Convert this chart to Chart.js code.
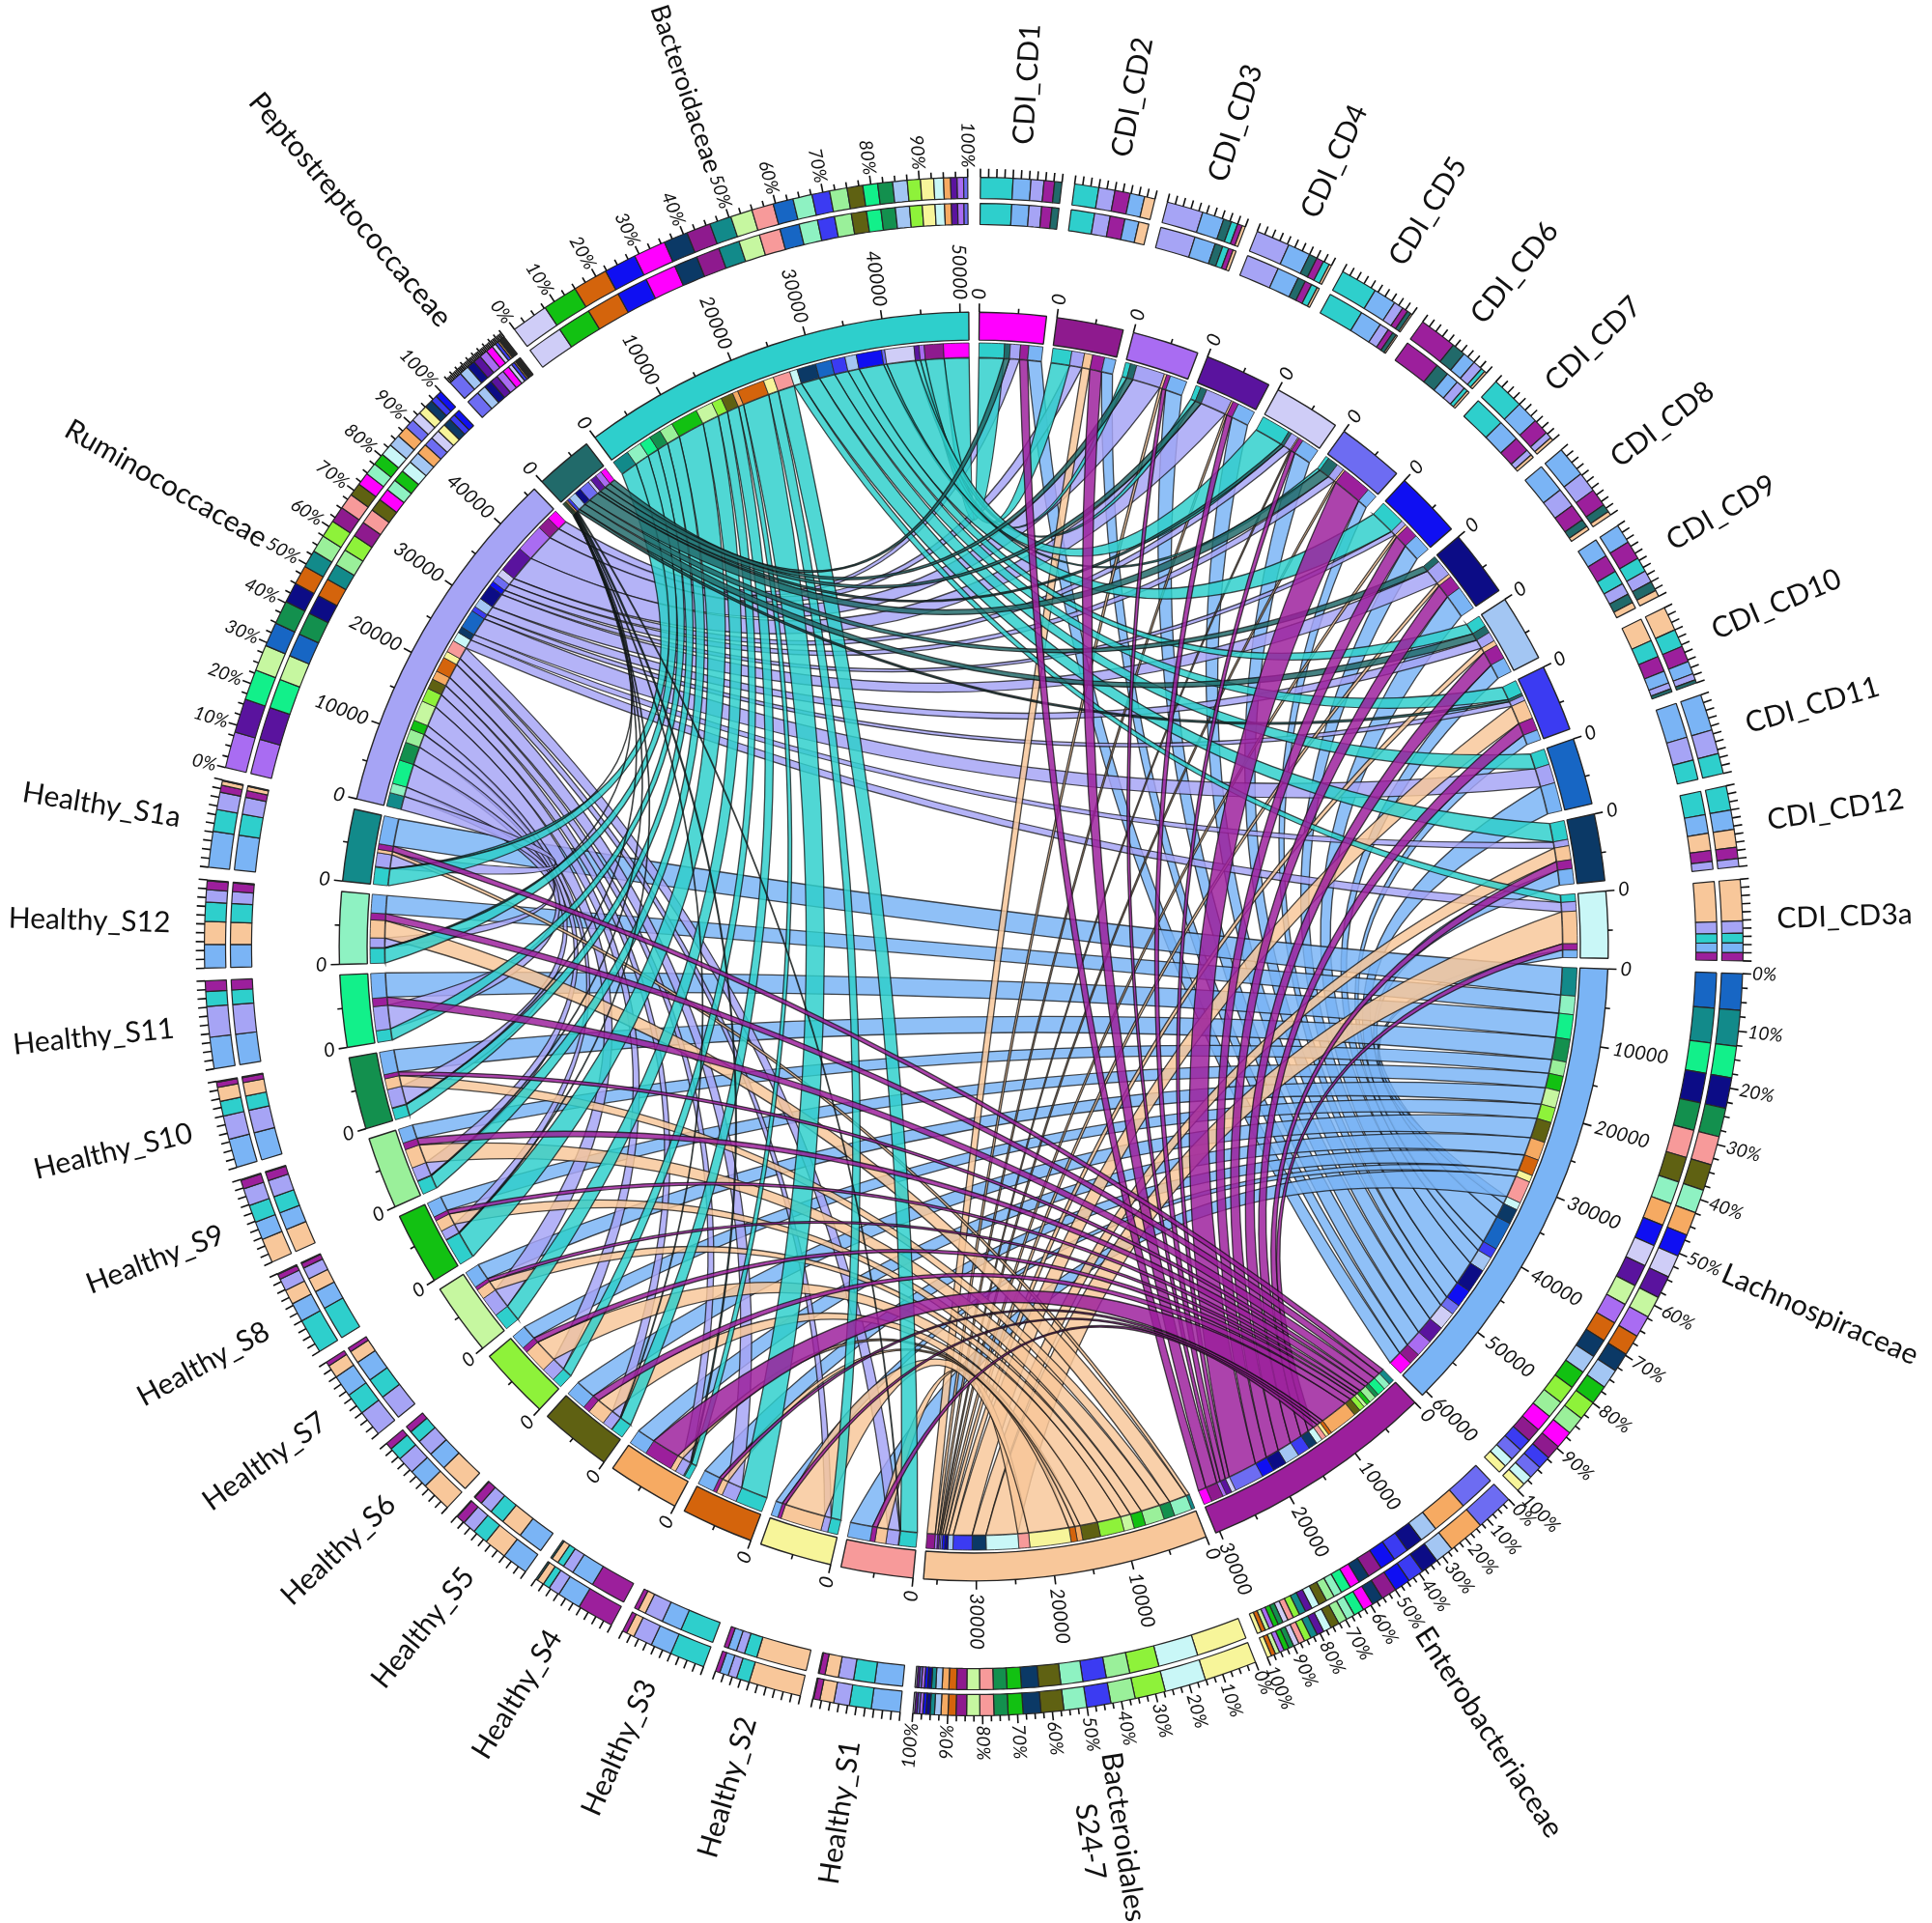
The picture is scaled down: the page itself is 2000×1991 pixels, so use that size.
<!DOCTYPE html>
<html>
<head>
<meta charset="utf-8">
<title>Chord diagram</title>
<script src="https://cdn.jsdelivr.net/npm/chart.js@4.4.0/dist/chart.umd.min.js"></script>
<style>
  html, body { margin: 0; padding: 0; background: #fff; }
  #wrap { width: 2000px; height: 1991px; }
</style>
</head>
<body>
<div id="wrap"><canvas id="chord" width="2000" height="1991"></canvas></div>
<script>
//Datos ------------------------------------------------------------------------------
const cdiSamples = ['CDI_CD1', 'CDI_CD2', 'CDI_CD3', 'CDI_CD4', 'CDI_CD5', 'CDI_CD6', 'CDI_CD7',
  'CDI_CD8', 'CDI_CD9', 'CDI_CD10', 'CDI_CD11', 'CDI_CD12', 'CDI_CD3a'];
const healthySamples = ['Healthy_S1', 'Healthy_S2', 'Healthy_S3', 'Healthy_S4', 'Healthy_S5', 'Healthy_S6',
  'Healthy_S7', 'Healthy_S8', 'Healthy_S9', 'Healthy_S10', 'Healthy_S11', 'Healthy_S12', 'Healthy_S1a'];
const cdiColors = ['#ff00ff', '#8e1a8e', '#a96cf2', '#5a139e', '#cfcdf7', '#6d6cf2', '#0f0ff2',
  '#0c0c86', '#a3c6f3', '#3b3bf2', '#1766c4', '#0b3966', '#c9f7f7'];
const healthyColors = ['#f79a9a', '#f7f59a', '#d4640c', '#f6aa62', '#5f6112', '#8ef23a', '#c6f7a0',
  '#12c112', '#9af09a', '#13904e', '#12f08a', '#8ef2c2', '#128a8a'];

// taxa, first three sit after the CDI samples, last three after the healthy ones
const taxa = ['Lachnospiraceae', 'Enterobacteriaceae', 'Bacteroidales S24-7',
  'Ruminococcaceae', 'Peptostreptococcaceae', 'Bacteroidaceae'];
const taxaColors = ['#7ab4f5', '#9c1f9c', '#f8c79a', '#a6a4f5', '#216a6a', '#2ecfcc'];

// reads per sample: CD1..CD12, CD3a, then S1..S12, S1a
const lachnospiraceae = [1892, 1548, 2322, 2408, 2408, 1376, 2408, 3268, 2064, 1376, 3870, 2064, 1032,
  3069, 930, 2232, 2511, 2790, 2046, 2325, 2046, 1953, 3069, 3348, 2511, 3813];
const enterobacteriaceae = [1118, 1634, 516, 774, 602, 4042, 1720, 1892, 1978, 1720, 0, 1204, 860,
  651, 465, 465, 3906, 930, 744, 465, 558, 930, 558, 1116, 930, 744];
const bacteroidalesS247 = [0, 1118, 344, 258, 172, 258, 344, 430, 688, 2580, 0, 1892, 4386,
  1488, 5580, 837, 744, 2418, 3255, 1395, 1581, 2604, 1488, 0, 2418, 465];
const ruminococcaceae = [1376, 1720, 3870, 3612, 1032, 1032, 688, 2150, 1290, 688, 2580, 860, 1290,
  1674, 930, 2046, 1209, 1395, 1860, 2790, 1302, 1860, 2511, 3255, 1302, 1860];
const peptostreptococcaceae = [774, 0, 860, 860, 430, 1462, 0, 860, 1032, 344, 0, 0, 0,
  93, 0, 0, 186, 93, 0, 0, 93, 93, 93, 0, 93, 93];
const bacteroidaceae = [3440, 2580, 688, 688, 3956, 430, 3440, 0, 1548, 1892, 2150, 2580, 1032,
  2325, 1395, 3720, 744, 1674, 1395, 2325, 3720, 1860, 1581, 1581, 2046, 2325];
const taxaReads = [lachnospiraceae, enterobacteriaceae, bacteroidalesS247,
  ruminococcaceae, peptostreptococcaceae, bacteroidaceae];

const gapReads = 1340;   // blank space between segments
const drawOrder = [0, 3, 2, 5, 4, 1]; // ribbons of which taxon go on top last

//Armado de segmentos -----------------------------------------------------------------
const segments = [];
cdiSamples.forEach((name, i) => segments.push({ name: name, color: cdiColors[i], taxon: false }));
[0, 1, 2].forEach(t => segments.push({ name: taxa[t], color: taxaColors[t], taxon: true }));
healthySamples.forEach((name, i) => segments.push({ name: name, color: healthyColors[i], taxon: false }));
[3, 4, 5].forEach(t => segments.push({ name: taxa[t], color: taxaColors[t], taxon: true }));

const samplePos = s => s < 13 ? s : s + 3;
const taxonPos = t => t < 3 ? 13 + t : 29 + (t - 3);

const links = [];
drawOrder.forEach(t => {
  taxaReads[t].forEach((v, s) => {
    if (v > 0) links.push({ a: samplePos(s), b: taxonPos(t), value: v, color: taxaColors[t] });
  });
});

segments.forEach(seg => seg.ends = []);
links.forEach((l, i) => {
  segments[l.a].ends.push({ link: i, side: 'a', other: l.b, value: l.value });
  segments[l.b].ends.push({ link: i, side: 'b', other: l.a, value: l.value });
});
segments.forEach(seg => {
  // ribbons leave each segment ordered by the far end, last segment first
  seg.ends.sort((x, y) => y.other - x.other);
  seg.total = seg.ends.reduce((s, e) => s + e.value, 0);
});

//Anillos ----------------------------------------------------------------------------
const clear = 'rgba(0,0,0,0)';

function ring(pick, weight, lineW) {
  const data = [], colors = [], widths = [];
  segments.forEach(seg => {
    pick(seg).forEach(p => {
      if (p.end) p.end.el = data.length;
      data.push(p.value);
      colors.push(p.color);
      widths.push(lineW);
    });
    data.push(gapReads);
    colors.push(clear);
    widths.push(0);
  });
  return { data: data, backgroundColor: colors, borderWidth: widths, borderColor: '#262626', weight: weight, hoverOffset: 0 };
}

function spacer(weight) {
  return { data: [1], backgroundColor: [clear], borderWidth: 0, weight: weight, hoverOffset: 0 };
}

const bySize = seg => seg.ends.slice().sort((x, y) => y.value - x.value)
  .map(e => ({ value: e.value, color: segments[e.other].color }));

const datasets = [
  ring(bySize, 22, 1.2),                                           // 0 outer composition
  spacer(5),                                                        // 1
  ring(bySize, 22, 1.2),                                           // 2 inner composition
  spacer(91),                                                       // 3
  ring(seg => [{ value: seg.total, color: seg.color }], 29, 1.4),  // 4 ideogram
  spacer(3),                                                        // 5
  ring(seg => seg.ends.map(e => ({ value: e.value, color: segments[e.other].color, end: e })), 15, 0.8) // 6 band
];

links.forEach((l, i) => {
  segments[l.a].ends.concat(segments[l.b].ends).forEach(e => {
    if (e.link === i) l[e.side === 'a' ? 'elA' : 'elB'] = e.el;
  });
});

function rgba(hex, alpha) {
  const n = parseInt(hex.slice(1), 16);
  return `rgba(${(n >> 16) & 255},${(n >> 8) & 255},${n & 255},${alpha})`;
}

//Cintas entre segmentos -------------------------------------------------------------
// control point pulled from the centre toward the two ends, less for far apart ends
function control(cx, cy, r, a, b) {
  const mid = (a + b) / 2;
  let d = Math.abs(b - a) % (2 * Math.PI);
  if (d > Math.PI) d = 2 * Math.PI - d;
  const k = 0.45 * r * Math.cos(d / 2);
  let dir = mid;
  if (Math.abs(b - a) > Math.PI) dir += Math.PI;
  return [cx + k * Math.cos(dir), cy + k * Math.sin(dir)];
}

const chordPlugin = {
  id: 'chords',
  beforeDatasetsDraw(chart) {
    const band = chart.getDatasetMeta(6).data;
    const ctx = chart.ctx;
    ctx.save();
    links.forEach(l => {
      const A = band[l.elA], B = band[l.elB];
      const cx = A.x, cy = A.y, r = A.innerRadius - 0.5;
      const c1 = control(cx, cy, r, A.endAngle, B.startAngle);
      const c2 = control(cx, cy, r, B.endAngle, A.startAngle);
      ctx.beginPath();
      ctx.arc(cx, cy, r, A.startAngle, A.endAngle);
      ctx.quadraticCurveTo(c1[0], c1[1], cx + r * Math.cos(B.startAngle), cy + r * Math.sin(B.startAngle));
      ctx.arc(cx, cy, r, B.startAngle, B.endAngle);
      ctx.quadraticCurveTo(c2[0], c2[1], cx + r * Math.cos(A.startAngle), cy + r * Math.sin(A.startAngle));
      ctx.closePath();
      ctx.fillStyle = rgba(l.color, 0.84);
      ctx.fill();
      ctx.lineWidth = 1.3;
      ctx.strokeStyle = 'rgba(15,15,15,0.75)';
      ctx.stroke();
    });
    ctx.restore();
  }
};

//Ticks y textos ---------------------------------------------------------------------
function radialText(ctx, cx, cy, text, r, a, size, style, fit) {
  const lines = text.split(' ');
  const right = Math.cos(a) >= 0;
  ctx.save();
  ctx.font = `${style}${size}px Lato`;
  let w = Math.max(...lines.map(t => ctx.measureText(t).width));
  if (fit && Math.sin(a) < 0) {
    // long names near the top edge get a smaller font so they stay on the canvas
    const room = (cy - 6) / -Math.sin(a) - r;
    if (w > room) {
      size = size * room / w;
      ctx.font = `${style}${size}px Lato`;
      w = room;
    }
  }
  ctx.translate(cx, cy);
  ctx.rotate(right ? a : a + Math.PI);
  ctx.textBaseline = 'middle';
  ctx.fillStyle = '#111';
  if (lines.length === 1) {
    ctx.textAlign = right ? 'left' : 'right';
    ctx.fillText(text, right ? r : -r, 0);
  } else {
    const lh = size * 1.15;
    ctx.textAlign = 'center';
    lines.forEach((t, i) => {
      const off = (i - (lines.length - 1) / 2) * lh;
      ctx.fillText(t, right ? r + w / 2 : -(r + w / 2), right ? off : -off);
    });
  }
  ctx.restore();
}

function tick(ctx, cx, cy, r0, r1, a) {
  ctx.beginPath();
  ctx.moveTo(cx + r0 * Math.cos(a), cy + r0 * Math.sin(a));
  ctx.lineTo(cx + r1 * Math.cos(a), cy + r1 * Math.sin(a));
  ctx.stroke();
}

const labelPlugin = {
  id: 'ticksAndNames',
  afterDatasetsDraw(chart) {
    const ctx = chart.ctx;
    const ideo = chart.getDatasetMeta(4).data;
    const outerR = chart.getDatasetMeta(0).data[0].outerRadius;
    ctx.save();
    ctx.strokeStyle = '#111';
    ctx.lineWidth = 1.6;
    segments.forEach((seg, i) => {
      const el = ideo[i * 2];
      const cx = el.x, cy = el.y, a0 = el.startAngle, a1 = el.endAngle, rO = el.outerRadius;
      const per = (a1 - a0) / seg.total;
      // absolute read scale on the ideogram
      for (let v = 0; v <= seg.total; v += 5000) {
        const a = a0 + v * per;
        const major = v % 10000 === 0;
        tick(ctx, cx, cy, rO, rO + (major ? 9 : 5), a);
        if (major) radialText(ctx, cx, cy, String(v), rO + 13, a, 20, 'italic ');
      }
      // percentage scale on the outer composition ring
      const step = seg.taxon ? 2.5 : 10;
      const wide = a1 - a0 > 0.15;
      for (let p = 0; p <= 100.001; p += step) {
        const a = a0 + (a1 - a0) * p / 100;
        const major = Math.abs(p % 10) < 0.001;
        tick(ctx, cx, cy, outerR, outerR + (major ? 9 : 6), a);
        if (seg.taxon && wide && major) radialText(ctx, cx, cy, Math.round(p) + '%', outerR + 10, a, 19, 'italic ');
      }
      radialText(ctx, cx, cy, seg.name, seg.taxon ? 846 : 832, (a0 + a1) / 2, 30, '', true);
    });
    ctx.restore();
  }
};

//Chart ------------------------------------------------------------------------------
const chordChart = new Chart(document.getElementById('chord'), {
  type: 'doughnut',
  data: { datasets: datasets },
  options: {
    responsive: false,
    animation: false,
    devicePixelRatio: 1,
    events: [],
    rotation: 0.5,
    circumference: 360,
    cutout: 610,
    layout: { padding: { left: 211, right: 195, top: 183, bottom: 214 } },
    plugins: {
      legend: { display: false },
      tooltip: { enabled: false }
    }
  },
  plugins: [chordPlugin, labelPlugin]
});
</script>
</body>
</html>
